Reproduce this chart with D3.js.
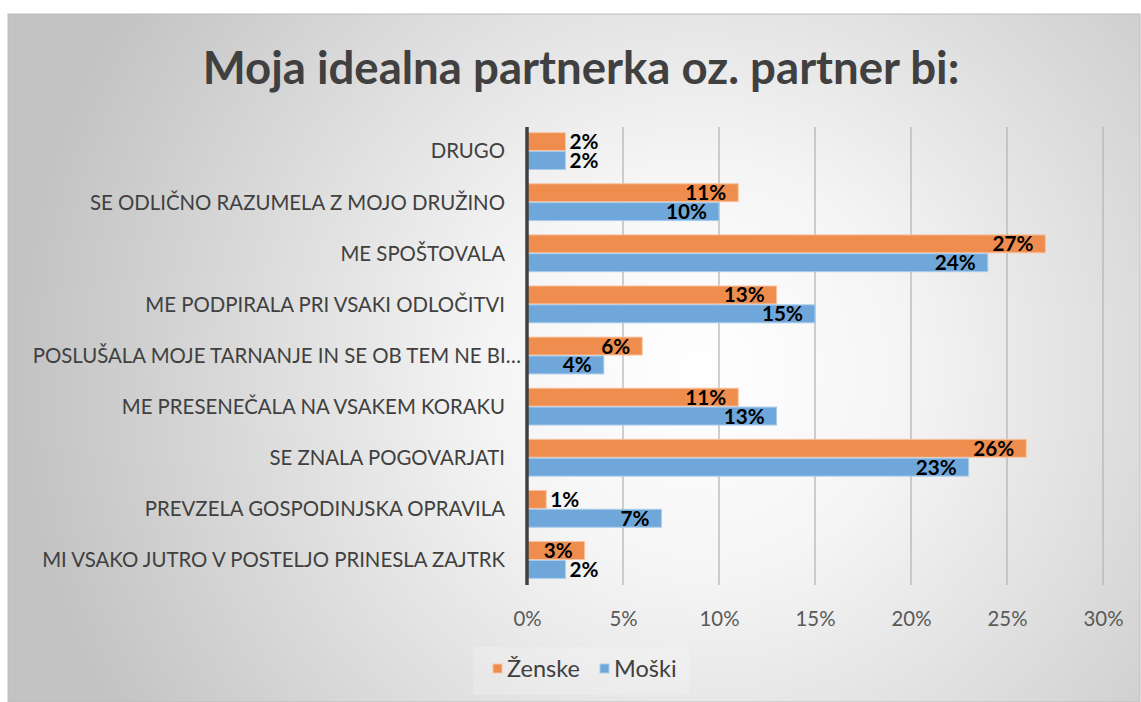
<!DOCTYPE html>
<html>
<head>
<meta charset="utf-8">
<script src="https://cdn.jsdelivr.net/npm/d3@7"></script>
<style>
  body { margin: 0; background: #fff; }
  svg text { font-family: Lato, "Open Sans", sans-serif; }
</style>
</head>
<body>
<svg id="chart" width="1141" height="702"></svg>
<script>
// data
var categories = [
  "DRUGO",
  "SE ODLIČNO RAZUMELA Z MOJO DRUŽINO",
  "ME SPOŠTOVALA",
  "ME PODPIRALA PRI VSAKI ODLOČITVI",
  "POSLUŠALA MOJE TARNANJE IN SE OB TEM NE BI…",
  "ME PRESENEČALA NA VSAKEM KORAKU",
  "SE ZNALA POGOVARJATI",
  "PREVZELA GOSPODINJSKA OPRAVILA",
  "MI VSAKO JUTRO V POSTELJO PRINESLA ZAJTRK"
];
var zenske = [2, 11, 27, 13, 6, 11, 26, 1, 3];
var moski  = [2, 10, 24, 15, 4, 13, 23, 7, 2];
var seriesNames = ["Ženske", "Moški"];
var xTicks = [0, 5, 10, 15, 20, 25, 30];

var colors = { fill: ["#ef8d4f", "#6fa7da"], stroke: ["#f7c3a0", "#a9cbea"] };

var svg = d3.select("#chart");
var W = 1141, H = 702;

// scale a text selection's font so one node gets the wanted width
function fitWidth(sel, node, base, width) {
  var w = node.getComputedTextLength();
  sel.attr("font-size", base * width / w);
}

// background frame with radial gradient
var defs = svg.append("defs");
var grad = defs.append("radialGradient").attr("id", "bg")
  .attr("gradientUnits", "userSpaceOnUse")
  .attr("cx", 700).attr("cy", 370).attr("r", 680);
grad.append("stop").attr("offset", "0%").attr("stop-color", "#ffffff");
grad.append("stop").attr("offset", "30%").attr("stop-color", "#f5f5f5");
grad.append("stop").attr("offset", "100%").attr("stop-color", "#c3c3c3");

svg.append("rect").attr("x", 8).attr("y", 14).attr("width", W - 9).attr("height", H - 14)
  .attr("fill", "url(#bg)").attr("stroke", "#bdbdbd").attr("stroke-width", 1);

// title, fitted to its width in the picture
var title = svg.append("text").attr("x", 581).attr("y", 84)
  .attr("text-anchor", "middle").attr("font-weight", "bold")
  .attr("fill", "#404040").attr("font-size", 44)
  .text("Moja idealna partnerka oz. partner bi:");
fitWidth(title, title.node(), 44, 757);

var x = d3.scaleLinear().domain([0, 30]).range([527, 1103]);
var y = d3.scaleBand().domain(categories).range([125.5, 585.5]).paddingInner(0.28).paddingOuter(0.14);
var y1 = d3.scaleBand().domain(seriesNames).range([0, y.bandwidth()]).paddingInner(0.05);

// gridlines
svg.append("g").selectAll("line").data(xTicks.slice(1)).join("line")
  .attr("x1", d => x(d)).attr("x2", d => x(d))
  .attr("y1", 127).attr("y2", 585)
  .attr("stroke", "#b5b5b5").attr("stroke-width", 1.3);

// x tick labels
var xAxis = d3.axisBottom(x).tickValues(xTicks).tickFormat(d => d + "%").tickSize(0).tickPadding(0);
var gx = svg.append("g").attr("transform", "translate(0,626)").call(xAxis);
gx.select(".domain").remove();
gx.attr("font-size", null);
var tickText = gx.selectAll("text").attr("fill", "#595959").attr("font-size", 18).attr("dy", 0);
fitWidth(tickText, tickText.nodes()[6], 18, 40);

// bars
var series = [zenske, moski];
var groups = svg.append("g").selectAll("g").data(series).join("g")
  .attr("fill", (d, i) => colors.fill[i]).attr("stroke", (d, i) => colors.stroke[i]);
groups.selectAll("rect").data((d, i) => d.map((v, j) => ({ v: v, c: categories[j], s: seriesNames[i] })))
  .join("rect")
  .attr("x", x(0))
  .attr("y", d => y(d.c) + y1(d.s))
  .attr("width", d => x(d.v) - x(0))
  .attr("height", y1.bandwidth())
  .attr("stroke-width", 1);

// data labels (inside end unless too short)
var labels = svg.append("g").attr("font-weight", "bold").attr("font-size", 19).attr("fill", "#000");
series.forEach(function (vals, i) {
  labels.selectAll(null).data(vals).join("text")
    .attr("x", (d) => d < 2.5 ? x(d) + 4 : x(d) - 12)
    .attr("text-anchor", d => d < 2.5 ? "start" : "end")
    .attr("y", (d, j) => y(categories[j]) + y1(seriesNames[i]) + y1.bandwidth() / 2)
    .attr("dy", "0.36em")
    .text(d => d + "%");
});
fitWidth(labels, labels.selectAll("text").nodes()[2], 19, 41);

// zero axis line
svg.append("line").attr("x1", x(0)).attr("x2", x(0)).attr("y1", 127).attr("y2", 585)
  .attr("stroke", "#404040").attr("stroke-width", 3.5);

// category labels
var cat = svg.append("g").attr("font-size", 18).attr("fill", "#404040");
cat.selectAll("text").data(categories).join("text")
  .attr("x", (d, i) => i === 4 ? 521 : 505)
  .attr("y", d => y(d) + y.bandwidth() / 2)
  .attr("dy", "0.36em")
  .attr("text-anchor", "end")
  .text(d => d);
fitWidth(cat, cat.selectAll("text").nodes()[8], 18, 463);

// legend
svg.append("rect").attr("x", 473).attr("y", 647).attr("width", 216).attr("height", 48)
  .attr("fill", "#ffffff").attr("opacity", 0.2);
var legend = svg.append("g").attr("font-size", 20).attr("fill", "#404040");
var legendX = [493, 600];
seriesNames.forEach(function (name, i) {
  legend.append("rect").attr("x", legendX[i]).attr("y", 664).attr("width", 9).attr("height", 9)
    .attr("fill", colors.fill[i]).attr("stroke", colors.stroke[i]);
  legend.append("text").attr("x", legendX[i] + 14).attr("y", 669).attr("dy", "0.36em").text(name);
});
var firstLegend = legend.selectAll("text").nodes()[0];
fitWidth(legend, firstLegend, 20, 73);
</script>
</body>
</html>
